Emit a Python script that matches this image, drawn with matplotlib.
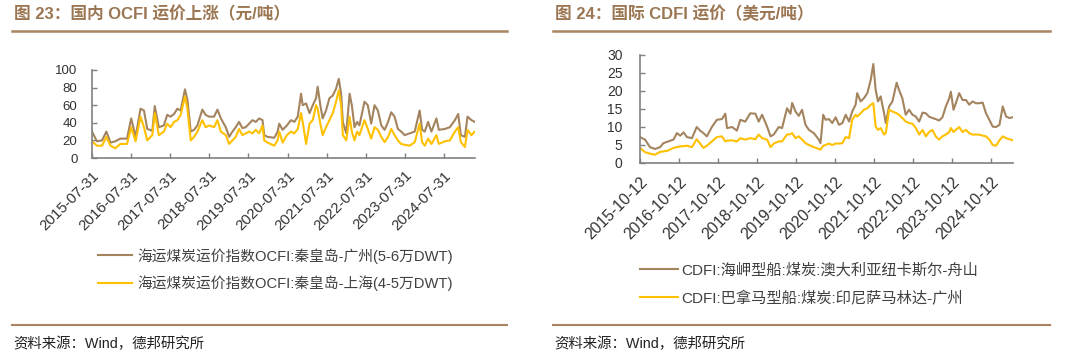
import matplotlib
matplotlib.use("Agg")
import matplotlib.pyplot as plt
from matplotlib.lines import Line2D
import pandas as pd

plt.rcParams['font.family'] = ['Liberation Sans', 'Noto Sans CJK SC']
plt.rcParams['axes.unicode_minus'] = False

# ---------------- Left chart data (OCFI, 元/吨) ----------------
ocfi_dates = [
    "2015-07-31", "2015-09-15", "2015-11-02", "2015-12-12", "2016-01-20", "2016-03-05",
    "2016-04-20", "2016-06-22", "2016-07-31", "2016-09-10", "2016-10-26", "2016-11-27",
    "2016-12-28", "2017-02-13", "2017-03-08", "2017-04-15", "2017-06-01", "2017-07-02",
    "2017-08-03", "2017-09-04", "2017-10-05", "2017-11-05", "2017-12-15", "2018-01-07",
    "2018-02-07", "2018-03-10", "2018-04-10", "2018-05-26", "2018-06-26", "2018-07-28",
    "2018-09-13", "2018-10-14", "2018-11-15", "2018-12-31", "2019-02-01", "2019-03-03",
    "2019-04-03", "2019-05-04", "2019-06-04", "2019-07-05", "2019-08-06", "2019-09-06",
    "2019-10-07", "2019-11-08", "2019-12-09", "2019-12-25", "2020-01-25", "2020-03-28",
    "2020-04-28", "2020-05-13", "2020-06-14", "2020-07-24", "2020-08-31", "2020-10-01",
    "2020-11-02", "2020-12-03", "2020-12-18", "2021-01-19", "2021-02-20", "2021-03-22",
    "2021-04-22", "2021-05-07", "2021-06-01", "2021-06-23", "2021-07-24", "2021-08-25",
    "2021-09-25", "2021-10-26", "2021-11-20", "2021-12-12", "2021-12-28", "2022-01-29",
    "2022-03-01", "2022-03-22", "2022-04-16", "2022-05-10", "2022-06-01", "2022-07-18",
    "2022-08-18", "2022-09-19", "2022-10-20", "2022-11-20", "2022-12-22", "2023-01-22",
    "2023-02-23", "2023-03-25", "2023-04-25", "2023-05-26", "2023-06-26", "2023-07-28",
    "2023-09-13", "2023-10-30", "2023-12-15", "2024-01-07", "2024-02-01", "2024-03-03",
    "2024-04-03", "2024-05-20", "2024-06-11", "2024-08-06", "2024-09-22", "2024-11-08",
    "2024-12-09", "2025-01-03", "2025-02-10", "2025-03-06", "2025-04-12", "2025-05-13",
]
ocfi_qhd_gz = [
    30, 19, 20, 30, 17.5, 19, 22, 22, 45, 24, 56, 54,
    33, 31, 59, 35, 37, 49, 47, 50, 56, 54, 78, 66,
    30, 32, 37, 55, 49, 47, 47, 55, 45, 35, 24, 30,
    35, 41, 34, 35, 39, 43, 41, 45, 43, 26, 24, 23,
    30, 39, 32, 37, 43, 41, 47, 73, 60, 62, 51, 60,
    68, 81, 60, 45, 54, 68, 71, 79, 90, 73, 41, 28,
    73, 60, 35, 41, 37, 64, 60, 39, 60, 54, 37, 32,
    41, 52, 47, 33, 30, 26, 28, 30, 54, 32, 30, 41,
    30, 45, 32, 33, 35, 43, 50, 26, 24, 47, 43, 41,
]
ocfi_qhd_sh = [
    19, 14, 14, 24, 14, 11, 16, 16, 35, 19, 47, 35,
    20, 26, 51, 26, 30, 39, 35, 41, 43, 49, 70, 56,
    20, 24, 30, 43, 35, 37, 35, 43, 30, 26, 16, 20,
    24, 33, 26, 28, 30, 28, 32, 28, 37, 20, 17.5, 14,
    20, 30, 17.5, 26, 30, 28, 33, 51, 41, 16, 39, 43,
    60, 56, 39, 26, 35, 43, 51, 64, 77, 60, 26, 20,
    47, 30, 20, 30, 26, 43, 33, 22, 35, 32, 24, 18,
    24, 33, 26, 20, 16, 15, 14, 18, 39, 18, 14, 22,
    16, 26, 16, 19, 20, 30, 35, 18, 12.5, 32, 26, 30,
]
ocfi_ticks = ["2015-07-31", "2016-07-31", "2017-07-31", "2018-07-31", "2019-07-31",
              "2020-07-31", "2021-07-31", "2022-07-31", "2023-07-31", "2024-07-31"]
ocfi_yticks = [0, 20, 40, 60, 80, 100]
ocfi_labels = ["海运煤炭运价指数OCFI:秦皇岛-广州(5-6万DWT)",
               "海运煤炭运价指数OCFI:秦皇岛-上海(4-5万DWT)"]

# ---------------- Right chart data (CDFI, 美元/吨) ----------------
cdfi_dates = [
    "2015-10-12", "2015-11-28", "2016-01-14", "2016-03-01", "2016-04-17", "2016-05-18",
    "2016-07-04", "2016-08-21", "2016-09-22", "2016-10-23", "2016-11-24", "2016-12-25",
    "2017-02-10", "2017-03-27", "2017-04-28", "2017-05-29", "2017-06-30", "2017-08-16",
    "2017-10-02", "2017-11-19", "2017-12-20", "2018-01-05", "2018-02-21", "2018-04-08",
    "2018-05-10", "2018-06-25", "2018-08-11", "2018-09-28", "2018-10-29", "2018-11-30",
    "2019-01-16", "2019-02-17", "2019-03-19", "2019-05-05", "2019-06-05", "2019-07-22",
    "2019-08-23", "2019-09-08", "2019-10-09", "2019-11-09", "2019-12-10", "2020-01-11",
    "2020-02-12", "2020-03-29", "2020-05-15", "2020-05-31", "2020-06-25", "2020-07-17",
    "2020-08-18", "2020-09-18", "2020-10-20", "2020-11-20", "2020-12-22", "2021-01-22",
    "2021-02-23", "2021-03-24", "2021-04-25", "2021-05-10", "2021-06-11", "2021-07-12",
    "2021-08-13", "2021-09-14", "2021-10-08", "2021-10-30", "2021-11-21", "2021-12-16",
    "2022-01-17", "2022-02-02", "2022-03-05", "2022-04-05", "2022-05-15", "2022-06-06",
    "2022-07-07", "2022-08-08", "2022-09-09", "2022-10-10", "2022-11-11", "2022-12-12",
    "2023-01-13", "2023-02-13", "2023-03-14", "2023-04-15", "2023-05-16", "2023-06-17",
    "2023-07-18", "2023-08-19", "2023-09-20", "2023-10-05", "2023-10-30", "2023-11-21",
    "2023-12-22", "2024-01-23", "2024-02-24", "2024-03-25", "2024-04-26", "2024-05-27",
    "2024-06-28", "2024-07-29", "2024-08-30", "2024-09-30", "2024-11-01", "2024-12-02",
    "2025-01-03", "2025-02-03", "2025-03-06", "2025-04-06", "2025-05-07",
]
cdfi_cape = [
    7.2, 6.5, 4.4, 3.9, 4.4, 5.5, 6.0, 6.5, 8.3, 7.6, 8.5, 7.2,
    6.9, 10, 9.0, 8.3, 7.4, 10, 12, 12.2, 13.7, 9.7, 10, 9.0,
    12, 11.5, 13.8, 13.7, 11.5, 13.4, 10.1, 7.4, 7.9, 10, 9.7, 15.2,
    13.7, 16.7, 14.3, 13.1, 14.8, 10.6, 9.2, 8.3, 6.5, 5.5, 13.4, 12,
    12.2, 11.1, 12.7, 10.6, 11.1, 13.4, 11.5, 14.3, 16.2, 19.4, 17.1, 18,
    19.4, 23.1, 27.5, 20.3, 17.1, 18.5, 13.8, 11.1, 15.7, 17.1, 22.3, 20.3,
    18, 13.4, 14.8, 13.4, 12.9, 11.5, 14.0, 13.8, 12.9, 12.5, 12.2, 11.8,
    12.7, 15.7, 18, 19.8, 14.8, 16.6, 19.4, 17.5, 17.5, 16.2, 17.1, 16.6,
    16.6, 16.8, 13.8, 12, 10.1, 10, 10.6, 15.7, 12.9, 12.5, 12.7,
]
cdfi_panamax = [
    4.2, 3.0, 2.6, 2.3, 3.1, 3.2, 3.5, 4.2, 4.4, 4.6, 4.7, 4.8,
    4.4, 6.6, 5.4, 4.2, 4.8, 6.0, 7.2, 7.4, 6.0, 6.2, 6.3, 6.0,
    6.9, 6.5, 6.9, 6.6, 7.9, 6.9, 6.5, 4.4, 5.4, 6.0, 6.0, 7.9,
    8.0, 8.3, 6.9, 7.4, 6.5, 5.5, 5.0, 4.4, 3.9, 3.7, 4.8, 5.0,
    5.4, 5.0, 5.4, 5.4, 5.5, 7.2, 6.9, 12, 13.4, 12.9, 13.8, 14.8,
    15.2, 16.2, 16.6, 10.1, 9.2, 9.7, 7.9, 8.3, 14.8, 14.3, 13.8, 13.4,
    12.5, 11.5, 11.1, 10.9, 9.7, 7.9, 9.2, 7.4, 8.6, 9.2, 7.4, 6.5,
    7.4, 7.9, 8.6, 9.7, 8.6, 9.2, 10, 8.6, 9.2, 8.3, 7.9, 7.9,
    7.9, 7.6, 7.4, 6.5, 5.0, 4.8, 6.3, 7.4, 6.9, 6.6, 6.3,
]
cdfi_ticks = ["2015-10-12", "2016-10-12", "2017-10-12", "2018-10-12", "2019-10-12",
              "2020-10-12", "2021-10-12", "2022-10-12", "2023-10-12", "2024-10-12"]
cdfi_yticks = [0, 5, 10, 15, 20, 25, 30]
cdfi_labels = ["CDFI:海岬型船:煤炭:澳大利亚纽卡斯尔-舟山",
               "CDFI:巴拿马型船:煤炭:印尼萨马林达-广州"]

titles = ["图 23：国内 OCFI 运价上涨（元/吨）", "图 24：国际 CDFI 运价（美元/吨）"]
source = "资料来源：Wind，德邦研究所"

BROWN = "#A4845F"
YELLOW = "#FFC000"
TITLE_C = "#9B7653"
RULE_C = "#A88462"
SPINE_C = "#808080"
TXT_C = "#333333"

W, H = 1080, 361
fig = plt.figure(figsize=(W / 100, H / 100), dpi=100)


def fx(px):
    return px / W


def fy(py):
    return 1 - py / H


def style_axes(ax, yticks, tickdates, xlim, yfs, xfs, ypad, xpad):
    for s in ["top", "right"]:
        ax.spines[s].set_visible(False)
    for s in ["left", "bottom"]:
        ax.spines[s].set_color(SPINE_C)
        ax.spines[s].set_linewidth(1.2)
    ax.set_ylim(yticks[0], yticks[-1])
    ax.set_yticks(yticks)
    ax.set_xlim(pd.Timestamp(xlim[0]), pd.Timestamp(xlim[1]))
    ax.set_xticks(pd.to_datetime(tickdates))
    ax.set_xticklabels(tickdates, rotation=45, ha="right", rotation_mode="anchor")
    ax.tick_params(axis="both", direction="in", length=3.5, width=1,
                   color=SPINE_C, labelcolor=TXT_C)
    ax.tick_params(axis="y", labelsize=yfs, pad=ypad)
    ax.tick_params(axis="x", labelsize=xfs, pad=xpad)
    ax.patch.set_alpha(0)


# Left axes
axL = fig.add_axes([fx(92), fy(158), fx(475) - fx(92), fy(70) - fy(158)])
dL = pd.to_datetime(ocfi_dates)
axL.plot(dL, ocfi_qhd_gz, color=BROWN, lw=1.5, label=ocfi_labels[0])
axL.plot(dL, ocfi_qhd_sh, color=YELLOW, lw=1.5, label=ocfi_labels[1])
style_axes(axL, ocfi_yticks, ocfi_ticks, ("2015-07-31", "2025-05-15"),
           9.5, 10.8, 10.5, 7.5)
axL.legend(loc="center left", bbox_to_anchor=(fx(98), fy(269.5)),
           bbox_transform=fig.transFigure, frameon=False, fontsize=10.6,
           handlelength=2.3, handletextpad=0.35, labelspacing=0.8,
           borderpad=0, borderaxespad=0, labelcolor="#404040")

# Right axes
axR = fig.add_axes([fx(640), fy(163), fx(1013) - fx(640), fy(55) - fy(163)])
dR = pd.to_datetime(cdfi_dates)
axR.plot(dR, cdfi_cape, color=BROWN, lw=1.5, label=cdfi_labels[0])
axR.plot(dR, cdfi_panamax, color=YELLOW, lw=1.5, label=cdfi_labels[1])
style_axes(axR, cdfi_yticks, cdfi_ticks, ("2015-10-12", "2025-05-10"),
           10, 11.3, 12.5, 8.5)
axR.legend(loc="center left", bbox_to_anchor=(fx(640), fy(284.5)),
           bbox_transform=fig.transFigure, frameon=False, fontsize=11,
           handlelength=2.5, handletextpad=0.2, labelspacing=0.85,
           borderpad=0, borderaxespad=0, labelcolor="#404040")

# Titles, rules, sources
for x0, x1, title in [(12, 507, titles[0]), (553, 1050, titles[1])]:
    fig.text(fx(x0 + 2), fy(14), title, fontsize=12, fontweight="bold",
             color=TITLE_C, va="center", ha="left")
    fig.add_artist(Line2D([fx(x0), fx(x1)], [fy(31), fy(31)], color=RULE_C,
                          lw=1.8, transform=fig.transFigure))
    fig.add_artist(Line2D([fx(x0), fx(x1)], [fy(325), fy(325)], color=RULE_C,
                          lw=1.5, transform=fig.transFigure))
    fig.text(fx(x0 + 1), fy(344), source, fontsize=10.4, color="#222222",
             va="center", ha="left")

fig.savefig("out.png", dpi=100)
